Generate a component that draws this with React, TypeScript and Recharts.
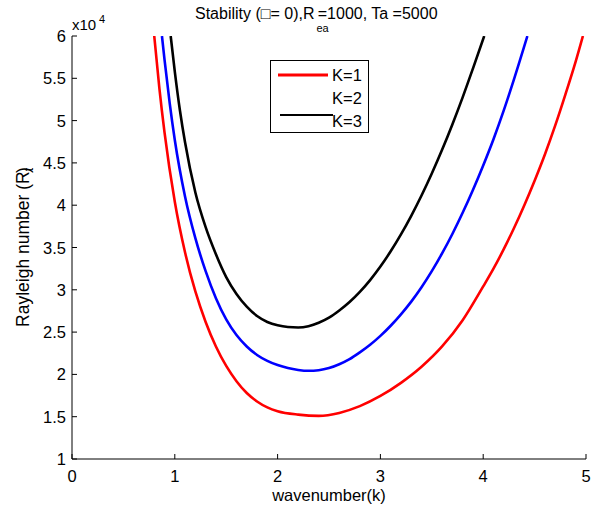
import { LineChart, Line, XAxis, YAxis, Legend } from "recharts";

const FONT = '"Liberation Sans", Arial, sans-serif';

// wavenumber k vs Rayleigh number (values in units of 10^4)
const kK1 = [0.8, 0.85, 0.9, 1.0, 1.1, 1.2, 1.3, 1.4, 1.5, 1.6, 1.7, 1.8, 1.9, 2.0, 2.2, 2.4, 2.6, 2.8, 3.0, 3.2, 3.4, 3.6, 3.8, 4.0, 4.1, 4.2, 4.3, 4.4, 4.5, 4.6, 4.7, 4.8, 4.9, 4.97];
const rK1 = [6.0, 5.38, 4.86, 4.04, 3.44, 2.98, 2.62, 2.33, 2.1, 1.92, 1.78, 1.68, 1.61, 1.565, 1.525, 1.51, 1.545, 1.625, 1.745, 1.9, 2.09, 2.33, 2.64, 3.04, 3.25, 3.48, 3.73, 4.0, 4.29, 4.6, 4.94, 5.31, 5.7, 6.0];

const kK2 = [0.875, 0.9, 0.95, 1.0, 1.1, 1.2, 1.3, 1.4, 1.5, 1.6, 1.7, 1.8, 1.9, 2.0, 2.1, 2.2, 2.3, 2.4, 2.5, 2.6, 2.7, 2.8, 2.9, 3.0, 3.1, 3.2, 3.3, 3.4, 3.5, 3.6, 3.7, 3.8, 3.9, 4.0, 4.1, 4.2, 4.3, 4.43];
const rK2 = [6.0, 5.72, 5.21, 4.77, 4.1, 3.61, 3.22, 2.9, 2.65, 2.465, 2.33, 2.23, 2.16, 2.11, 2.075, 2.053, 2.043, 2.05, 2.075, 2.12, 2.18, 2.26, 2.35, 2.455, 2.575, 2.71, 2.86, 3.03, 3.22, 3.43, 3.66, 3.91, 4.18, 4.47, 4.78, 5.12, 5.49, 6.0];

const kK3 = [0.96, 1.0, 1.05, 1.1, 1.2, 1.3, 1.4, 1.5, 1.6, 1.7, 1.8, 1.9, 2.0, 2.1, 2.2, 2.3, 2.4, 2.5, 2.6, 2.7, 2.8, 2.9, 3.0, 3.1, 3.2, 3.3, 3.4, 3.5, 3.6, 3.7, 3.8, 3.9, 4.01];
const rK3 = [6.0, 5.58, 5.12, 4.74, 4.15, 3.74, 3.42, 3.15, 2.95, 2.8, 2.69, 2.62, 2.58, 2.56, 2.555, 2.57, 2.61, 2.67, 2.755, 2.855, 2.975, 3.115, 3.275, 3.455, 3.655, 3.875, 4.115, 4.375, 4.655, 4.955, 5.275, 5.615, 6.0];

const xTicks = [0, 1, 2, 3, 4, 5];
const yTicks = [1, 1.5, 2, 2.5, 3, 3.5, 4, 4.5, 5, 5.5, 6];

const toRows = (ks: number[], rs: number[]) => ks.map((k, i) => ({ k, r: rs[i] }));

const series = [
  { name: "K=1", color: "#ff0000", data: toRows(kK1, rK1) },
  { name: "K=2", color: "#0000ff", data: toRows(kK2, rK2) },
  { name: "K=3", color: "#000000", data: toRows(kK3, rK3) },
];

const TICK_LEN = 5;
const LABEL_SIZE = 16.5;

function LeftTick({ x, y, payload }: any) {
  return (
    <g>
      <line x1={x + 6} x2={x + 6 + TICK_LEN} y1={y} y2={y} stroke="#000" />
      <text x={x} y={y} dy={6} textAnchor="end" fontSize={LABEL_SIZE} fontFamily={FONT} fill="#000">
        {String(payload.value)}
      </text>
    </g>
  );
}

function BottomTick({ x, y, payload }: any) {
  return (
    <g>
      <line x1={x} x2={x} y1={y - 6} y2={y - 6 - TICK_LEN} stroke="#000" />
      <text x={x} y={y} dy={17} textAnchor="middle" fontSize={LABEL_SIZE} fontFamily={FONT} fill="#000">
        {String(payload.value)}
      </text>
    </g>
  );
}

function TopTick({ x, y }: any) {
  return <line x1={x} x2={x} y1={y} y2={y + TICK_LEN} stroke="#000" />;
}

function RightTick({ x, y }: any) {
  return <line x1={x} x2={x - TICK_LEN} y1={y} y2={y} stroke="#000" />;
}

function LegendBox() {
  return (
    <svg width={99} height={73} style={{ display: "block" }}>
      <rect x={0.5} y={0.5} width={98} height={72} fill="#fff" stroke="#000" />
      <line x1={8} x2={58} y1={15} y2={15} stroke="#ff0000" strokeWidth={3} />
      <line x1={10} x2={63} y1={55} y2={55} stroke="#000" strokeWidth={2} />
      {series.map((s, i) => (
        <text key={s.name} x={62} y={21 + i * 23} fontSize={LABEL_SIZE} fontFamily={FONT} fill="#000">
          {s.name}
        </text>
      ))}
    </svg>
  );
}

export default function App() {
  return (
    <div style={{ position: "absolute", left: 0, top: 0, width: 595, height: 511, background: "#fff" }}>
      <LineChart width={595} height={511} margin={{ top: 36, right: 9, left: 0, bottom: 0 }}>
        <XAxis
          type="number"
          dataKey="k"
          domain={[0, 5]}
          ticks={xTicks}
          height={52}
          tickSize={0}
          tickMargin={6}
          tick={<BottomTick />}
          axisLine={{ stroke: "#000" }}
          tickLine={false}
          allowDataOverflow
        />
        <XAxis
          xAxisId="top"
          orientation="top"
          type="number"
          dataKey="k"
          domain={[0, 5]}
          ticks={xTicks}
          height={0}
          tickSize={0}
          tickMargin={0}
          tick={<TopTick />}
          axisLine={{ stroke: "#000" }}
          tickLine={false}
          allowDataOverflow
        />
        <YAxis
          type="number"
          domain={[1, 6]}
          ticks={yTicks}
          width={72}
          tickSize={0}
          tickMargin={6}
          tick={<LeftTick />}
          axisLine={{ stroke: "#000" }}
          tickLine={false}
          allowDataOverflow
        />
        <YAxis
          yAxisId="right"
          orientation="right"
          type="number"
          domain={[1, 6]}
          ticks={yTicks}
          width={0}
          tickSize={0}
          tickMargin={0}
          tick={<RightTick />}
          axisLine={{ stroke: "#000" }}
          tickLine={false}
          allowDataOverflow
        />
        <Legend
          layout="vertical"
          align="center"
          verticalAlign="middle"
          content={() => <LegendBox />}
          wrapperStyle={{ left: 270, top: 60, width: 99, height: 73 }}
        />
        {series.map((s) => (
          <Line
            key={s.name}
            data={s.data}
            dataKey="r"
            name={s.name}
            type="monotone"
            stroke={s.color}
            strokeWidth={2.6}
            dot={false}
            activeDot={false}
            isAnimationActive={false}
          />
        ))}
      </LineChart>
      <svg
        width={595}
        height={511}
        style={{ position: "absolute", left: 0, top: 0, pointerEvents: "none" }}
        fontFamily={FONT}
        fill="#000"
      >
        <text x={195} y={18.5} fontSize={16}>
          Stability (□= 0),R
          <tspan fontSize={11} dx={2} dy={13}>
            ea
          </tspan>
          <tspan dx={-11} dy={-13}>
            =
          </tspan>
          1000, Ta =5000
        </text>
        <text x={72} y={30} fontSize={15}>
          x10
        </text>
        <text x={99} y={23} fontSize={11}>
          4
        </text>
        <text x={329} y={501} fontSize={LABEL_SIZE} textAnchor="middle">
          wavenumber(k)
        </text>
        <text transform="translate(29,247) rotate(-90)" fontSize={17.5} textAnchor="middle">
          Rayleigh number (R<tspan fontSize={12} dy={4}>t</tspan>
          <tspan dy={-4} dx={-5}>)</tspan>
        </text>
      </svg>
    </div>
  );
}
